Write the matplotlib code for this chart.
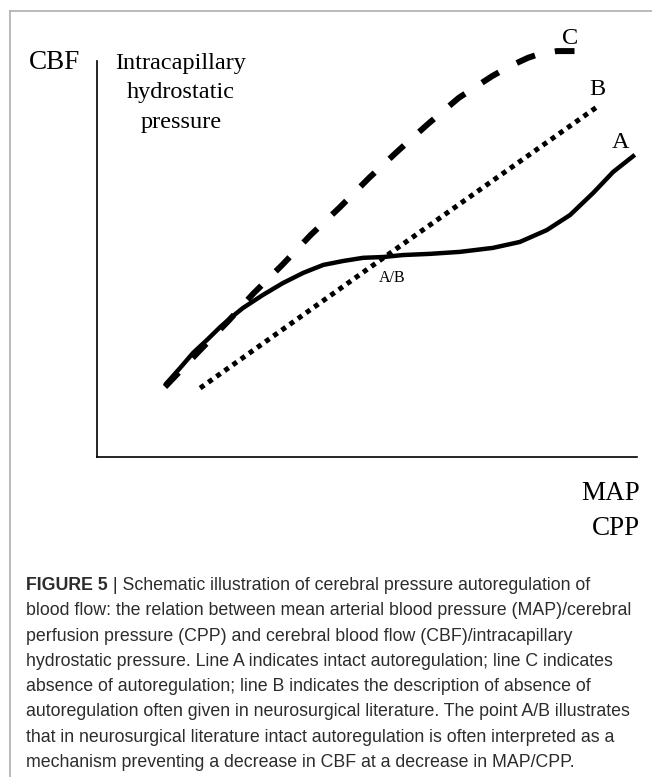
#!/usr/bin/env python3
"""Schematic of cerebral pressure autoregulation (lines A, B, C)."""

import matplotlib
matplotlib.use("Agg")
import matplotlib.pyplot as plt
from matplotlib.lines import Line2D

# curve A: intact autoregulation (x = MAP/CPP, y = CBF, arbitrary units)
map_a = [12.6, 15.4, 17.8, 20.4, 22.8, 25.0, 27.0, 30.7, 34.4, 38.2, 41.9, 45.6,
         49.3, 53.0, 56.7, 61.7, 67.2, 73.3, 78.3, 83.3, 87.6, 91.9, 95.6, 99.6]
cbf_a = [18.2, 22.5, 26.3, 29.6, 32.8, 35.4, 37.6, 40.9, 43.9, 46.5, 48.5, 49.5,
         50.3, 50.5, 51.0, 51.3, 51.8, 52.8, 54.3, 57.3, 61.1, 66.7, 72.0, 76.3]

# curve B: "absence of autoregulation" as described in neurosurgical literature
map_b = [19.1, 54.3, 92.6]
cbf_b = [17.4, 51.5, 88.4]

# curve C: absence of autoregulation
map_c = [12.6, 19.1, 24.3, 28.9, 34.3, 39.6, 45.0, 50.4, 55.9, 61.3, 67.0, 73.2,
         76.5, 79.8, 82.0, 85.2, 88.5]
cbf_c = [17.7, 27.0, 34.3, 41.2, 48.5, 56.1, 63.1, 70.5, 77.5, 84.1, 90.7, 96.2,
         98.7, 100.8, 101.8, 102.5, 102.5]

curve_labels = ["A", "B", "C"]
label_pos = [(96.9, 79.3), (92.6, 92.7), (87.6, 105.6)]
point_label = "A/B"
point_pos = (54.6, 45.2)

y_label = "CBF"
y_label2 = ["Intracapillary", "hydrostatic", "pressure"]
x_label = ["MAP", "CPP"]

caption_head = "FIGURE 5"
caption_lines = [
    " | Schematic illustration of cerebral pressure autoregulation of",
    "blood flow: the relation between mean arterial blood pressure (MAP)/cerebral",
    "perfusion pressure (CPP) and cerebral blood flow (CBF)/intracapillary",
    "hydrostatic pressure. Line A indicates intact autoregulation; line C indicates",
    "absence of autoregulation; line B indicates the description of absence of",
    "autoregulation often given in neurosurgical literature. The point A/B illustrates",
    "that in neurosurgical literature intact autoregulation is often interpreted as a",
    "mechanism preventing a decrease in CBF at a decrease in MAP/CPP.",
]

W, H = 652, 777
SERIF = ["Liberation Serif", "DejaVu Serif"]
SANS = ["Liberation Sans", "DejaVu Sans"]
CAP_SIZE = 12.8

fig = plt.figure(figsize=(W / 100, H / 100), dpi=100)

# background axes in pixel coordinates, for frame, axis titles and caption
bg = fig.add_axes([0, 0, 1, 1])
bg.set_xlim(0, W)
bg.set_ylim(H, 0)
bg.axis("off")
bg.add_line(Line2D([10, W], [11, 11], color="#b4b4b4", lw=1.3))
bg.add_line(Line2D([10, 10], [11, H], color="#b4b4b4", lw=1.3))

bg.text(55, 69, y_label, family=SERIF, fontsize=19.5, ha="center", va="baseline")
for i, s in enumerate(y_label2):
    bg.text(181, 69 + i * 29.3, s, family=SERIF, fontsize=17.5, ha="center", va="baseline")
for i, s in enumerate(x_label):
    bg.text(640, 500 + i * 35, s, family=SERIF, fontsize=19.5, ha="right", va="baseline")

cap_color = "#2c2c2c"
head = bg.text(26, 590, caption_head, family=SANS, fontsize=CAP_SIZE, fontweight="bold",
               color=cap_color, ha="left", va="baseline")
bg.annotate(caption_lines[0], xy=(1, 0), xycoords=head, va="bottom", ha="left",
            family=SANS, fontsize=CAP_SIZE, color=cap_color)
for i, s in enumerate(caption_lines[1:], start=1):
    bg.text(26, 590 + i * 25.3, s, family=SANS, fontsize=CAP_SIZE, color=cap_color,
            ha="left", va="baseline")

# main schematic axes
ax = fig.add_axes([97 / W, (H - 457) / H, (W - 97) / W, (457 - 20) / H])
ax.set_facecolor("none")
ax.set_xlim(0, 102.78)
ax.set_ylim(0, 110.35)
for side in ["top", "right"]:
    ax.spines[side].set_visible(False)
for side in ["left", "bottom"]:
    ax.spines[side].set_bounds(0, 100)
    ax.spines[side].set_linewidth(1.2)
ax.set_xticks([])
ax.set_yticks([])

ax.plot(map_c, cbf_c, color="black", lw=4.3, dashes=(3.3, 3.4),
        dash_capstyle="butt", dash_joinstyle="round")
ax.plot(map_a, cbf_a, color="black", lw=3.2, solid_capstyle="butt",
        solid_joinstyle="round")
ax.plot(map_b, cbf_b, color="black", lw=3.6, dashes=(1, 1), dash_capstyle="butt")

for lab, (x, y) in zip(curve_labels, label_pos):
    ax.text(x, y, lab, family=SERIF, fontsize=17.5, ha="center", va="center")
ax.text(point_pos[0], point_pos[1], point_label, family=SERIF, fontsize=11.5,
        ha="center", va="center")

fig.savefig("out.png", dpi=100)
